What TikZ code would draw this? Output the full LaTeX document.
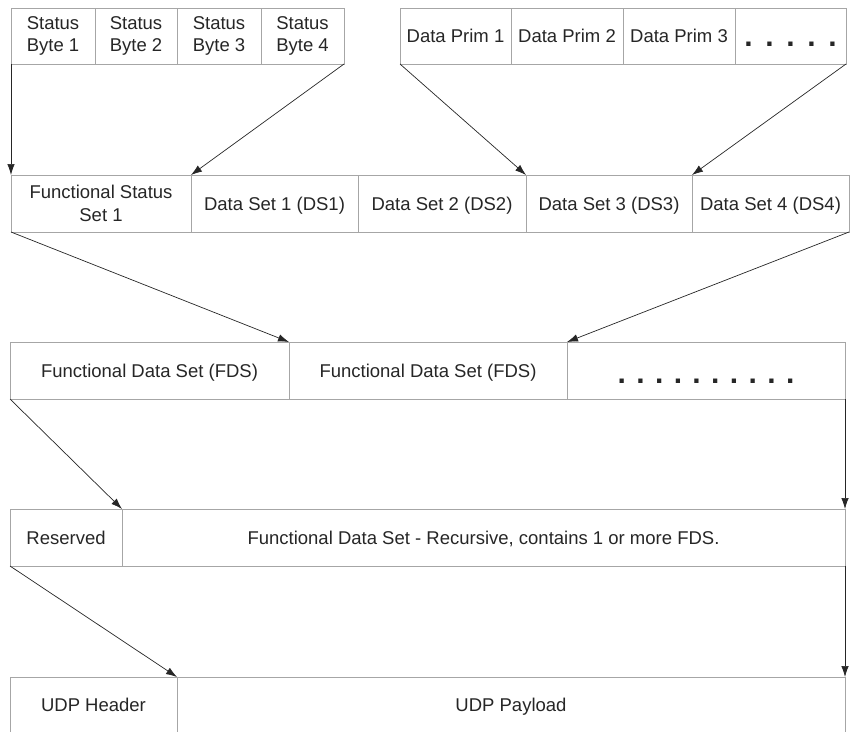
\documentclass[tikz,border=0pt]{standalone}
\usepackage{fontspec}
\setmainfont{Liberation Sans}
\usetikzlibrary{positioning, arrows.meta}

% row of bold dots: count, gap, drop below the baseline
\newcommand{\dotrun}[3]{\raisebox{-#3}{\fontsize{30}{30}\selectfont\bfseries\foreach \i in {1,...,#1}{\ifnum\i>1\hspace{#2}\fi.}}}

\begin{document}
\begin{tikzpicture}[x=1pt, y=-1pt, node distance=0pt,
    cell/.style={draw=black!35, line width=0.8pt, rectangle, minimum height=56pt,
                 inner sep=0pt, outer sep=0pt, align=center, text=black!85,
                 text height=15.5pt, text depth=2.5pt,
                 font=\fontsize{18.5}{22.5}\selectfont},
    twoline/.style={text height={}, text depth={}},
    arr/.style={-{Latex[length=11pt,width=7.5pt]}, line width=0.7pt, black!85}]
       \useasboundingbox (0,0) rectangle (850,731);
       \clip (0,0) rectangle (850,731);

       % status bytes
       \node[cell, twoline, anchor=north west, minimum width=84pt] (sb1) at (11,8) {Status\\Byte 1};
       \node[cell, twoline, minimum width=82pt] (sb2) [right=of sb1] {Status\\Byte 2};
       \node[cell, twoline, minimum width=84pt] (sb3) [right=of sb2] {Status\\Byte 3};
       \node[cell, twoline, minimum width=83pt] (sb4) [right=of sb3] {Status\\Byte 4};

       % data primitives
       \node[cell, anchor=north west, minimum width=111pt] (dp1) at (400,8) {Data Prim 1};
       \node[cell, minimum width=112pt] (dp2) [right=of dp1] {Data Prim 2};
       \node[cell, minimum width=112pt] (dp3) [right=of dp2] {Data Prim 3};
       \node[cell, minimum width=111pt] (dpmore) [right=of dp3] {\dotrun{5}{12.7pt}{3.5pt}};

       % data sets
       \node[cell, twoline, anchor=north west, minimum width=180pt, minimum height=57pt] (fss) at (11,175) {Functional Status\\Set 1};
       \node[cell, minimum width=167pt, minimum height=57pt] (ds1) [right=of fss] {Data Set 1 (DS1)};
       \node[cell, minimum width=168pt, minimum height=57pt] (ds2) [right=of ds1] {Data Set 2 (DS2)};
       \node[cell, minimum width=166pt, minimum height=57pt] (ds3) [right=of ds2] {Data Set 3 (DS3)};
       \node[cell, minimum width=157pt, minimum height=57pt] (ds4) [right=of ds3] {Data Set 4 (DS4)};

       % functional data sets
       \node[cell, anchor=north west, minimum width=279pt, minimum height=57pt] (fds1) at (10,342) {Functional Data Set (FDS)};
       \node[cell, minimum width=278pt, minimum height=57pt] (fds2) [right=of fds1] {Functional Data Set (FDS)};
       \node[cell, minimum width=278pt, minimum height=57pt] (fdsmore) [right=of fds2] {\dotrun{10}{10.4pt}{6pt}};

       % payload
       \node[cell, anchor=north west, minimum width=112pt, minimum height=57pt] (res) at (10,509) {Reserved};
       \node[cell, minimum width=723pt, minimum height=57pt] (fdsrec) [right=of res] {Functional Data Set - Recursive, contains 1 or more FDS.};

       % udp
       \node[cell, anchor=north west, minimum width=167pt] (udph) at (10,677) {UDP Header};
       \node[cell, minimum width=668pt] (udpp) [right=of udph] {UDP Payload};

       \path[arr]
       (sb1.south west) edge (fss.north west)
       (sb4.south east) edge (ds1.north west)
       (dp1.south west) edge (ds3.north west)
       (dpmore.south east) edge (ds4.north west)
       (fss.south west) edge (fds2.north west)
       (ds4.south east) edge (fdsmore.north west)
       (fds1.south west) edge (fdsrec.north west)
       (fdsmore.south east) edge (fdsrec.north east)
       (res.south west) edge (udpp.north west)
       (fdsrec.south east) edge (udpp.north east);
\end{tikzpicture}
\end{document}
